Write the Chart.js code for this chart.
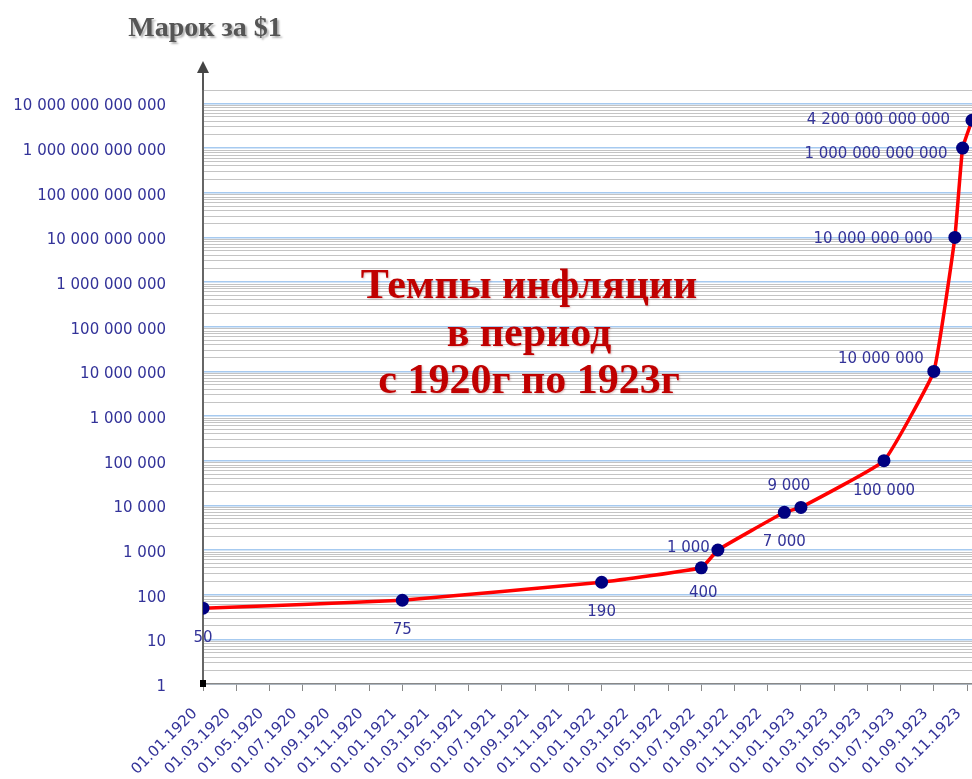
<!DOCTYPE html>
<html>
<head>
<meta charset="utf-8">
<script src="https://cdn.jsdelivr.net/npm/chart.js@4"></script>
<style>
  html, body { margin: 0; padding: 0; background: #fff; }
  #wrap { width: 972px; height: 779px; }
</style>
</head>
<body>
<div id="wrap"><canvas id="inflation_chart"></canvas></div>
<script>
// dates of the marks and the number of marks per one dollar
const pointDates = ['01.01.1920', '01.01.1921', '01.01.1922', '01.07.1922', '01.08.1922', '01.12.1922',
    '01.01.1923', '01.06.1923', '01.09.1923', '09.10.1923', '23.10.1923', '10.11.1923'];
const markValues = [50, 75, 190, 400, 1000, 7000, 9000, 100000, 10000000, 10000000000,
    1000000000000, 4200000000000];

const xTickLabels = ['01.01.1920', '01.03.1920', '01.05.1920', '01.07.1920', '01.09.1920', '01.11.1920',
    '01.01.1921', '01.03.1921', '01.05.1921', '01.07.1921', '01.09.1921', '01.11.1921',
    '01.01.1922', '01.03.1922', '01.05.1922', '01.07.1922', '01.09.1922', '01.11.1922',
    '01.01.1923', '01.03.1923', '01.05.1923', '01.07.1923', '01.09.1923', '01.11.1923'];
const yTickLabels = ['1', '10', '100', '1 000', '10 000', '100 000', '1 000 000', '10 000 000',
    '100 000 000', '1 000 000 000', '10 000 000 000', '100 000 000 000', '1 000 000 000 000',
    '10 000 000 000 000'];

// where each value label sits relative to its point: dx, dy, align
const labelPlacement = [
    [0, 30, 'center'], [0, 30, 'center'], [0, 30, 'center'], [2, 25, 'center'],
    [-8, -2, 'right'], [0, 30, 'center'], [-12, -21, 'center'], [0, 30, 'center'],
    [-10, -12, 'right'], [-22, 2, 'right'], [-15, 6, 'right'], [-22, 0, 'right']
];

const labelColor = '#333399';
const tickFont = { family: 'DejaVu Sans', size: 15 };

function dateToMonths(s) {
    let parts = s.split('.');
    let day = parseInt(parts[0]);
    let month = parseInt(parts[1]);
    let year = parseInt(parts[2]);
    return (year - 1920) * 12 + (month - 1) + (day - 1) / 30;
}

function withSpaces(v) {
    return String(v).replace(/\B(?=(\d{3})+(?!\d))/g, ' ');
}

function isMajor(v) {
    let e = Math.round(Math.log10(v));
    return Math.abs(v - Math.pow(10, e)) < v * 1e-9;
}

const decorPlugin = {
    id: 'decor',
    beforeDraw(chart) {
        const ctx = chart.ctx;
        ctx.save();
        ctx.fillStyle = '#fff';
        ctx.fillRect(0, 0, chart.width, chart.height);
        ctx.restore();
    },
    beforeDatasetsDraw(chart) {
        const ctx = chart.ctx;
        ctx.save();
        ctx.font = 'bold 42px "Liberation Serif"';
        ctx.fillStyle = '#c00000';
        ctx.textAlign = 'center';
        ctx.textBaseline = 'alphabetic';
        ctx.shadowColor = 'rgba(120,0,0,0.25)';
        ctx.shadowOffsetX = 1;
        ctx.shadowOffsetY = 1;
        ctx.shadowBlur = 2;
        ctx.fillText('Темпы инфляции', 529, 298);
        ctx.fillText('в период', 529, 346);
        ctx.fillText('с 1920г по 1923г', 529, 393);
        ctx.restore();
    },
    afterDatasetsDraw(chart) {
        const ctx = chart.ctx;
        const area = chart.chartArea;
        const meta = chart.getDatasetMeta(0);
        ctx.save();

        // value labels
        ctx.font = '15px "DejaVu Sans"';
        ctx.fillStyle = labelColor;
        ctx.textBaseline = 'middle';
        meta.data.forEach((pt, i) => {
            let p = labelPlacement[i];
            ctx.textAlign = p[2];
            ctx.fillText(withSpaces(markValues[i]), pt.x + p[0], pt.y + p[1]);
        });

        // arrow on the y axis
        ctx.strokeStyle = '#555';
        ctx.fillStyle = '#444';
        ctx.lineWidth = 2;
        ctx.beginPath();
        ctx.moveTo(area.left, area.top);
        ctx.lineTo(area.left, 72);
        ctx.stroke();
        ctx.beginPath();
        ctx.moveTo(area.left, 61);
        ctx.lineTo(area.left - 6, 73);
        ctx.lineTo(area.left + 6, 73);
        ctx.closePath();
        ctx.fill();

        // small square at the origin
        ctx.fillStyle = '#000';
        ctx.fillRect(area.left - 3, area.bottom - 4, 6, 7);

        // axis title
        ctx.font = 'bold 28px "Liberation Serif"';
        ctx.fillStyle = '#555';
        ctx.textAlign = 'center';
        ctx.textBaseline = 'alphabetic';
        ctx.shadowColor = 'rgba(0,0,0,0.3)';
        ctx.shadowOffsetX = 2;
        ctx.shadowOffsetY = 2;
        ctx.shadowBlur = 2;
        ctx.fillText('Марок за $1', 205, 36);
        ctx.restore();
    }
};

const chart = document.getElementById('inflation_chart');

new Chart(chart, {
    type: 'line',
    data: {
        datasets: [{
            label: 'Марок за $1',
            data: pointDates.map((d, i) => ({ x: dateToMonths(d), y: markValues[i] })),
            borderColor: '#ff0000',
            borderWidth: 3.5,
            tension: 0.1,
            pointRadius: 6.5,
            pointBackgroundColor: '#000080',
            pointBorderColor: '#000080',
            pointBorderWidth: 0,
            fill: false
        }]
    },
    options: {
        responsive: true,
        maintainAspectRatio: false,
        animation: false,
        events: [],
        layout: { autoPadding: false, padding: { top: 90, right: 0, bottom: 0, left: 0 } },
        scales: {
            x: {
                type: 'linear',
                min: 0,
                max: 46.3,
                afterBuildTicks: (scale) => {
                    scale.ticks = xTickLabels.map((l, i) => ({ value: i * 2 }));
                },
                afterFit: (scale) => {
                    scale.height = 95;
                    scale.paddingLeft = 0;
                    scale.paddingRight = 0;
                },
                ticks: {
                    autoSkip: false,
                    minRotation: 45,
                    maxRotation: 45,
                    padding: 14,
                    labelOffset: -8,
                    color: labelColor,
                    font: tickFont,
                    callback: (v) => xTickLabels[Math.round(v / 2)]
                },
                grid: {
                    drawOnChartArea: false,
                    drawTicks: true,
                    tickLength: 7,
                    color: '#888'
                },
                border: { display: true, color: '#888', width: 1.5 }
            },
            y: {
                type: 'logarithmic',
                min: 1,
                max: 2e13,
                afterBuildTicks: (scale) => {
                    let ticks = [];
                    for (let n = 0; n <= 13; n++) {
                        for (let k = 1; k <= 9; k++) {
                            let v = k * Math.pow(10, n);
                            if (v <= 2e13) ticks.push({ value: v, major: k === 1 });
                        }
                    }
                    scale.ticks = ticks;
                },
                afterFit: (scale) => {
                    scale.width = 203;
                    scale.paddingTop = 0;
                    scale.paddingBottom = 0;
                },
                ticks: {
                    autoSkip: false,
                    padding: 37,
                    labelOffset: 3,
                    color: labelColor,
                    font: tickFont,
                    callback: (v) => isMajor(v) ? yTickLabels[Math.round(Math.log10(v))] : ''
                },
                grid: {
                    drawTicks: false,
                    lineWidth: (c) => c.tick && isMajor(c.tick.value) ? 1.5 : 1,
                    color: (c) => c.tick && isMajor(c.tick.value) ? '#a6caf0' : '#c4c4c4'
                },
                border: { display: true, color: '#666', width: 2 }
            }
        },
        plugins: {
            legend: { display: false },
            tooltip: { enabled: false },
            title: { display: false }
        }
    },
    plugins: [decorPlugin]
});
</script>
</body>
</html>
